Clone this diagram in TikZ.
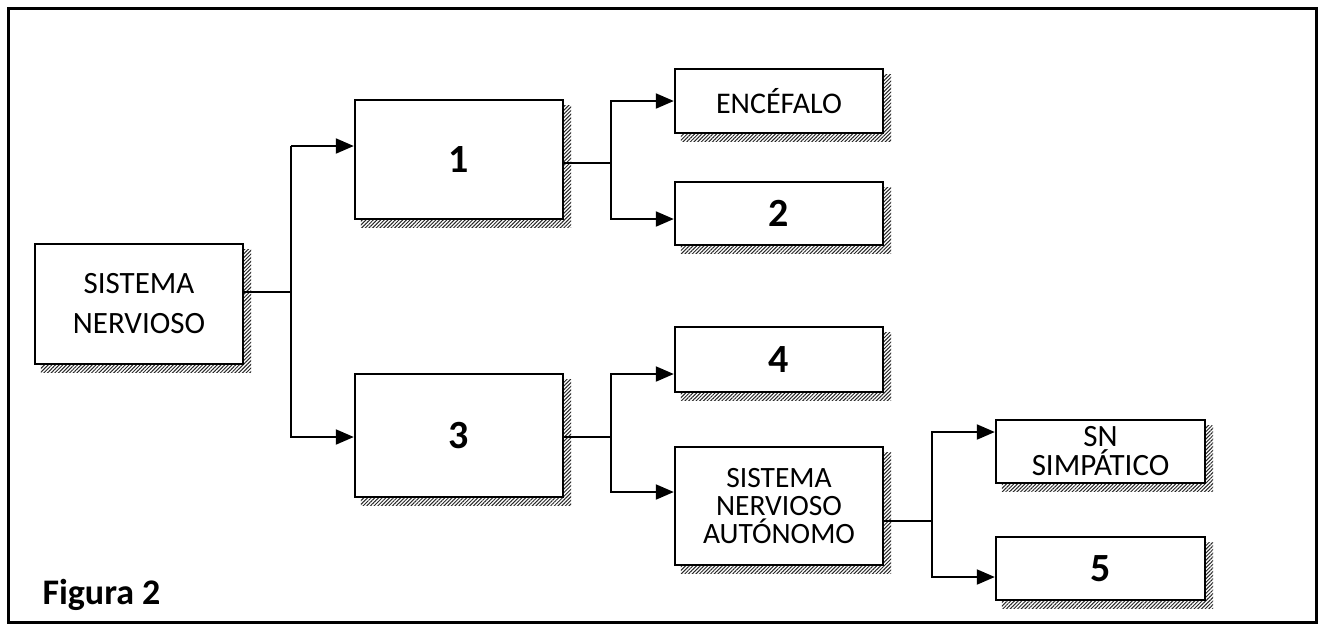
\documentclass[tikz,border=0pt]{standalone}
\usepackage{fontspec}
\setmainfont{Carlito}
\usetikzlibrary{arrows.meta,patterns.meta,backgrounds}
\tikzset{
  box/.style={draw=black, line width=2.4pt, fill=white, inner sep=0pt, align=center, font=\fontsize{30}{36}\selectfont},
  numtxt/.style={font=\fontsize{40}{46}\selectfont\bfseries},
  conn/.style={line width=2pt},
  arr/.style={line width=2pt, -{Triangle[length=18pt,width=15pt]}},
  shade/.style={pattern={Lines[angle=45,distance=2.6pt,line width=1pt]}, pattern color=black!85}
}
\begin{document}
\begin{tikzpicture}[x=1pt,y=-1pt]
\useasboundingbox (0,0) rectangle (1324,630);
\draw[line width=3pt] (8,8) rectangle (1316,622);
% boxes
\node[box, minimum width=208pt, minimum height=120pt, font=\fontsize{31}{40}\selectfont] (sn) at (139,304) {SISTEMA\\NERVIOSO};
\node[box, minimum width=208pt, minimum height=119pt, numtxt] (b1) at (459,159.5) {1};
\node[box, minimum width=208pt, minimum height=123pt, numtxt] (b3) at (459,435.5) {3};
\node[box, minimum width=208pt, minimum height=64pt] (enc) at (779,101) {ENCÉFALO};
\node[box, minimum width=208pt, minimum height=63pt, numtxt] (b2) at (779,213.5) {2};
\node[box, minimum width=208pt, minimum height=65pt, numtxt] (b4) at (779,359.5) {4};
\node[box, minimum width=208pt, minimum height=118pt, font=\fontsize{29.5}{28}\selectfont] (sna) at (779,506) {SISTEMA\\NERVIOSO\\AUTÓNOMO};
\node[box, minimum width=209pt, minimum height=63pt, font=\fontsize{31}{29}\selectfont] (simp) at (1100.5,451.5) {SN\\SIMPÁTICO};
\node[box, minimum width=209pt, minimum height=63pt, numtxt] (b5) at (1100.5,568.5) {5};
% shadows
\begin{scope}[on background layer]
\foreach \n in {sn,b1,b3,enc,b2,b4,sna,simp,b5}{
  \fill[shade] ([xshift=7pt,yshift=-7pt]\n.south west) rectangle ([xshift=7pt,yshift=-7pt]\n.north east);
}
\end{scope}
% label
\node[font=\fontsize{36}{40}\selectfont\bfseries, anchor=base west] (fig) at (39,604) {Figura 2};
% connectors
\coordinate (j0) at (291,292);
\coordinate (j1) at (611,163);
\coordinate (j3) at (611,437);
\coordinate (j5) at (932,521);
\draw[conn] (sn.east |- j0) -- (j0);
\draw[arr] (j0 |- 0,146) -- (b1.west |- 0,146);
\draw[arr] (j0) |- (b3.west |- 0,437);
\draw[conn] (j0) -- (j0 |- 0,146);
\draw[conn] (b1.east |- j1) -- (j1);
\draw[arr] (j1) |- (enc.west);
\draw[arr] (j1) |- (b2.west |- 0,219);
\draw[conn] (b3.east |- j3) -- (j3);
\draw[arr] (j3) |- (b4.west |- 0,374);
\draw[arr] (j3) |- (sna.west |- 0,492);
\draw[conn] (sna.east |- j5) -- (j5);
\draw[arr] (j5) |- (simp.west |- 0,432);
\draw[arr] (j5) |- (b5.west |- 0,577);
\end{tikzpicture}
\end{document}
